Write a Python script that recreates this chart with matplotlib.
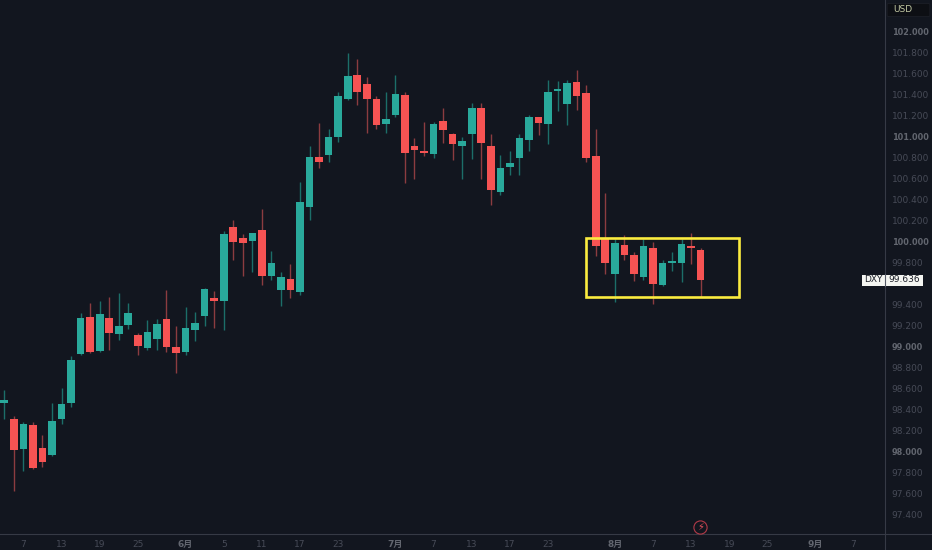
import matplotlib
matplotlib.use("Agg")
import numpy as np
import matplotlib.pyplot as plt
from matplotlib.lines import Line2D
from matplotlib.patches import Rectangle, FancyBboxPatch

plt.rcParams['font.family'] = ['DejaVu Sans', 'Noto Sans CJK SC']

opens = [98.46, 98.31, 98.02, 98.25, 98.03, 97.96, 98.31, 98.46, 98.93, 99.28,
         98.96, 99.27, 99.12, 99.20, 99.11, 98.98, 99.07, 99.26, 98.99, 98.95,
         99.16, 99.29, 99.46, 99.43, 100.14, 100.03, 100.01, 100.11, 99.67, 99.54,
         99.64, 99.52, 100.33, 100.81, 100.83, 101.00, 101.36, 101.59, 101.50, 101.36,
         101.12, 101.21, 101.40, 100.91, 100.86, 100.84, 101.15, 101.03, 100.91, 101.03,
         101.27, 100.91, 100.47, 100.71, 100.80, 100.97, 101.19, 101.12, 101.44, 101.31,
         101.52, 101.42, 100.82, 100.02, 99.69, 99.97, 99.87, 99.66, 99.94, 99.59,
         99.80, 99.80, 99.96, 99.92]
highs = [98.58, 98.34, 98.28, 98.28, 98.15, 98.46, 98.60, 98.91, 99.32, 99.41,
         99.43, 99.47, 99.51, 99.41, 99.13, 99.25, 99.26, 99.54, 99.19, 99.38,
         99.33, 99.56, 99.53, 100.10, 100.21, 100.07, 100.08, 100.31, 99.91, 99.71,
         99.79, 100.57, 100.91, 101.13, 101.07, 101.43, 101.80, 101.74, 101.57, 101.39,
         101.43, 101.59, 101.43, 100.99, 101.14, 101.14, 101.27, 101.04, 101.00, 101.32,
         101.32, 101.03, 100.83, 100.86, 101.03, 101.21, 101.19, 101.54, 101.53, 101.54,
         101.64, 101.49, 101.07, 100.46, 100.02, 100.06, 99.90, 100.02, 100.00, 99.82,
         99.90, 100.02, 100.08, 99.94]
lows = [98.31, 97.62, 97.81, 97.83, 97.85, 97.95, 98.26, 98.42, 98.92, 98.94,
        98.95, 98.97, 99.06, 99.17, 98.92, 98.97, 98.97, 98.95, 98.75, 98.92,
        99.05, 99.19, 99.18, 99.16, 99.82, 99.67, 99.71, 99.59, 99.63, 99.39,
        99.46, 99.49, 100.21, 100.70, 100.76, 100.95, 101.35, 101.30, 101.04, 101.07,
        101.04, 101.19, 100.56, 100.60, 100.82, 100.80, 100.94, 100.78, 100.60, 100.79,
        100.60, 100.35, 100.44, 100.64, 100.64, 100.86, 101.02, 100.93, 101.25, 101.11,
        101.26, 100.76, 99.86, 99.69, 99.42, 99.82, 99.62, 99.63, 99.40, 99.58,
        99.72, 99.61, 99.79, 99.47]
closes = [98.49, 98.01, 98.26, 97.84, 97.90, 98.29, 98.45, 98.87, 99.27, 98.95,
          99.31, 99.13, 99.19, 99.32, 99.00, 99.14, 99.21, 98.99, 98.94, 99.18,
          99.22, 99.55, 99.43, 100.07, 100.00, 99.99, 100.08, 99.67, 99.80, 99.66,
          99.54, 100.38, 100.81, 100.76, 101.00, 101.39, 101.58, 101.43, 101.36, 101.11,
          101.17, 101.41, 100.85, 100.87, 100.85, 101.12, 101.06, 100.93, 100.96, 101.27,
          100.94, 100.49, 100.70, 100.75, 100.99, 101.19, 101.13, 101.43, 101.46, 101.51,
          101.39, 100.80, 99.96, 99.80, 99.99, 99.87, 99.69, 99.96, 99.60, 99.80,
          99.81, 99.98, 99.94, 99.636]

price_ticks = [102.0, 101.8, 101.6, 101.4, 101.2, 101.0, 100.8, 100.6, 100.4, 100.2,
               100.0, 99.8, 99.4, 99.2, 99.0, 98.8, 98.6, 98.4, 98.2, 98.0,
               97.8, 97.6, 97.4]
date_ticks = [2, 6, 10, 14, 19, 23, 27, 31, 35, 41, 45, 49, 53, 57, 64, 68, 72, 76, 80, 85, 89]
date_labels = ['7', '13', '19', '25', '6月', '5', '11', '17', '23', '7月', '7', '13',
               '17', '23', '8月', '7', '13', '19', '25', '9月', '7']

box_dates = [60.94, 76.98]
box_prices = [99.469, 100.037]
last_price = 99.636

BG = '#12161f'
UP = '#29a99b'
DOWN = '#f65353'
UP_WICK = '#1c6e69'
DOWN_WICK = '#8c3c40'
BORDER = '#363a45'
TICK = '#474b57'
TICK_STRONG = '#62666f'
W, H = 932, 550


def fx(x):
    return x / W


def fy(y):
    return 1 - y / H


fig = plt.figure(figsize=(W / 100, H / 100), dpi=100, facecolor=BG)
ax = fig.add_axes([0, fy(533.7), fx(884.7), 533.7 / H], facecolor=BG)

idx = np.arange(len(opens))
o = np.array(opens)
c = np.array(closes)
is_up = c >= o

ax.vlines(idx, lows, highs, colors=[UP_WICK if u else DOWN_WICK for u in is_up], linewidth=1.0, zorder=2)
bottoms = np.minimum(o, c)
heights = np.maximum(np.abs(c - o), 0.012)
ax.bar(idx, heights, bottom=bottoms, width=0.8,
       color=[UP if u else DOWN for u in is_up], linewidth=0, zorder=3)

ax.add_patch(Rectangle((box_dates[0], box_prices[0]), box_dates[1] - box_dates[0],
                       box_prices[1] - box_prices[0], fill=False, edgecolor='#fbec3f',
                       linewidth=1.9, zorder=4))

ax.set_xlim(-0.451, 92.29)
ax.set_ylim(97.213, 102.305)

ax.yaxis.tick_right()
ax.set_yticks(price_ticks)
ax.set_yticklabels(['%.3f' % p for p in price_ticks])
ax.tick_params(axis='y', length=0, pad=5, labelsize=6.5, labelcolor=TICK)
for p, lab in zip(price_ticks, ax.get_yticklabels()):
    if abs(p - round(p)) < 1e-6:
        lab.set_color(TICK_STRONG)
        lab.set_fontweight('bold')
        lab.set_fontsize(5.9)

ax.set_xticks(date_ticks)
ax.set_xticklabels(date_labels)
ax.tick_params(axis='x', length=0, pad=4.5, labelsize=6.5, labelcolor=TICK)
for lab in ax.get_xticklabels():
    if '月' in lab.get_text():
        lab.set_color(TICK_STRONG)
        lab.set_fontweight('bold')

for s in ['top', 'left', 'right', 'bottom']:
    ax.spines[s].set_visible(False)

# axis borders run past the plot corner
fig.add_artist(Line2D([fx(884.7), fx(884.7)], [0, 1], color=BORDER, linewidth=0.8))
fig.add_artist(Line2D([0, 1], [fy(533.7), fy(533.7)], color=BORDER, linewidth=0.8))

# currency button
fig.add_artist(FancyBboxPatch((fx(889), fy(15.5)), 39 / W, 11 / H,
                              boxstyle='round,pad=0.002', transform=fig.transFigure,
                              facecolor='#0d0f14', edgecolor='#1c1f27', linewidth=0.6))
fig.text(fx(893.5), fy(9.5), 'USD', color='#c3c9a4', fontsize=6.5, va='center', ha='left')

# last price tag
fig.add_artist(Rectangle((fx(862), fy(285.5)), 61 / W, 11 / H, transform=fig.transFigure,
                         facecolor='#f4f5f1', edgecolor='none', zorder=5))
fig.add_artist(Line2D([fx(884.7), fx(884.7)], [fy(285.5), fy(274.5)], color='#555a66', linewidth=0.8, zorder=6))
fig.text(fx(873.5), fy(280), 'DXY', color='#1a1d26', fontsize=6.5, va='center', ha='center', zorder=7)
fig.text(fx(904), fy(280), '%.3f' % last_price, color='#1a1d26', fontsize=6.5, va='center', ha='center', zorder=7)

# event marker above the time scale
fig.add_artist(Line2D([fx(700.3)], [fy(526.7)], marker='o', markersize=9.5,
                      markerfacecolor=BG, markeredgecolor='#b23a48', markeredgewidth=0.8,
                      transform=fig.transFigure, zorder=5))
fig.text(fx(700.3), fy(526.7), '⚡', color='#e8525e', fontsize=7, va='center', ha='center', zorder=6)

fig.savefig('out.png', dpi=100, facecolor=BG)
